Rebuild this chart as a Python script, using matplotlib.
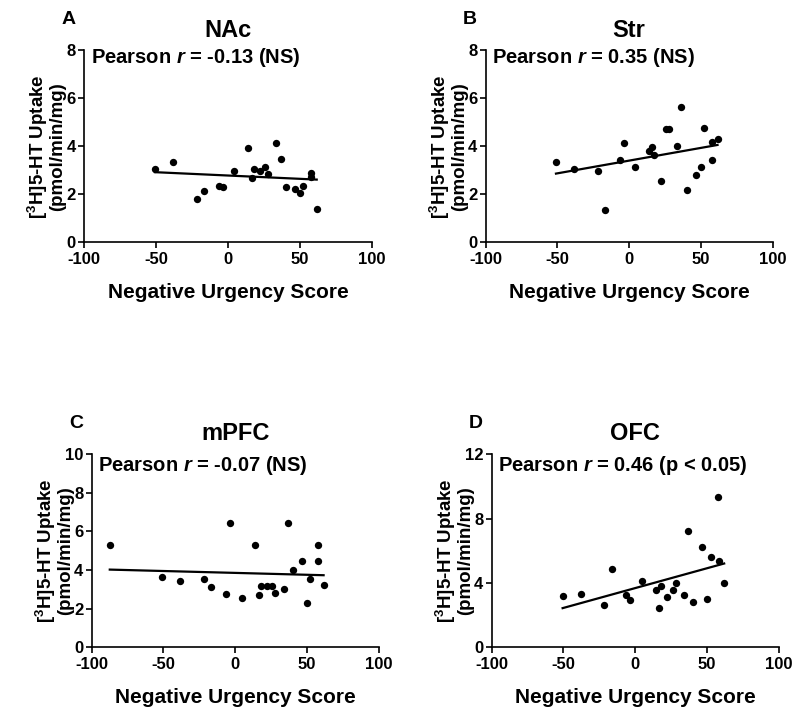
import numpy as np
import matplotlib
matplotlib.use("Agg")
import matplotlib.pyplot as plt

plt.rcParams["font.family"] = ["Liberation Sans", "DejaVu Sans"]
plt.rcParams["font.weight"] = "bold"
plt.rcParams["axes.unicode_minus"] = False
plt.rcParams["mathtext.fontset"] = "custom"
plt.rcParams["mathtext.rm"] = "Liberation Sans:bold"
plt.rcParams["mathtext.bf"] = "Liberation Sans:bold"
plt.rcParams["mathtext.it"] = "Liberation Sans:bold:italic"
plt.rcParams["mathtext.bfit"] = "Liberation Sans:bold:italic"

# ---------------------------------------------------------------
# Data
# ---------------------------------------------------------------
nac_x = [-50.7, -38.2, -21.8, -16.4, -6.5, -3.7, 4.4, 13.9, 16.4, 17.8, 22.0,
         25.5, 28.0, 33.6, 36.6, 40.0, 46.3, 49.8, 52.1, 57.6, 57.6, 61.6]
nac_y = [3.04, 3.36, 1.79, 2.12, 2.35, 2.31, 2.97, 3.92, 2.69, 3.07, 2.96,
         3.12, 2.85, 4.12, 3.46, 2.31, 2.24, 2.04, 2.35, 2.90, 2.71, 1.39]

str_x = [-51.0, -38.5, -22.0, -16.7, -6.7, -3.9, 4.2, 13.5, 16.0, 17.6, 21.8,
         25.3, 27.8, 33.4, 36.2, 40.1, 46.4, 49.7, 52.0, 57.5, 57.8, 61.5]
str_y = [3.33, 3.07, 2.99, 1.36, 3.44, 4.14, 3.15, 3.82, 3.96, 3.64, 2.56,
         4.72, 4.72, 4.01, 5.63, 2.18, 2.82, 3.14, 4.78, 3.43, 4.19, 4.32]

mpfc_x = [-87.4, -50.8, -38.5, -21.8, -16.7, -6.5, -3.7, 4.7, 13.9, 16.3, 17.7,
          21.8, 25.3, 27.8, 36.5, 33.7, 40.2, 46.4, 49.9, 52.0, 57.5, 57.5, 61.5]
mpfc_y = [5.30, 3.63, 3.45, 3.54, 3.11, 2.74, 6.46, 2.54, 5.32, 2.72, 3.19,
          3.19, 3.19, 2.80, 6.46, 3.04, 4.00, 4.45, 2.28, 3.56, 5.30, 4.47, 3.21]

ofc_x = [-50.6, -38.0, -21.6, -16.4, -6.3, -3.7, 4.9, 14.2, 16.5, 18.1, 22.3,
         26.0, 28.1, 33.7, 36.7, 40.4, 46.6, 50.1, 52.5, 58.0, 57.8, 61.9]
ofc_y = [3.20, 3.32, 2.64, 4.87, 3.22, 2.95, 4.12, 3.59, 2.41, 3.80, 3.10,
         3.59, 4.00, 3.24, 7.24, 2.79, 6.21, 2.97, 5.61, 5.36, 9.37, 4.00]

panel_letters = ["A", "B", "C", "D"]
regions = ["NAc", "Str", "mPFC", "OFC"]
pearson_labels = [
    r"Pearson $\mathbfit{r}$ = -0.13 (NS)",
    r"Pearson $\mathbfit{r}$ = 0.35 (NS)",
    r"Pearson $\mathbfit{r}$ = -0.07 (NS)",
    r"Pearson $\mathbfit{r}$ = 0.46 (p < 0.05)",
]
y_ticks = [[0, 2, 4, 6, 8], [0, 2, 4, 6, 8], [0, 2, 4, 6, 8, 10], [0, 4, 8, 12]]
x_ticks = [-100, -50, 0, 50, 100]

xs = [nac_x, str_x, mpfc_x, ofc_x]
ys = [nac_y, str_y, mpfc_y, ofc_y]

# axes rectangles in figure fractions (800 x 716 px)
rects = [
    [0.105, 0.6616, 0.360, 0.268],
    [0.607, 0.6616, 0.359, 0.268],
    [0.1146, 0.096, 0.359, 0.2696],
    [0.6146, 0.096, 0.359, 0.2696],
]
text_y = [0.965, 0.965, 0.941, 0.941]

fig = plt.figure(figsize=(8, 7.16), dpi=100)

for i in range(4):
    ax = fig.add_axes(rects[i])
    x = np.array(xs[i])
    y = np.array(ys[i])
    ax.scatter(x, y, s=28, color="black", zorder=3, linewidths=0)

    # least-squares regression line over the range of the data
    slope, intercept = np.polyfit(x, y, 1)
    xl = np.array([x.min(), x.max()])
    ax.plot(xl, slope * xl + intercept, color="black", lw=1.6)

    ax.set_xlim(-100, 100)
    ax.set_ylim(y_ticks[i][0], y_ticks[i][-1])
    ax.set_xticks(x_ticks)
    ax.set_yticks(y_ticks[i])
    ax.tick_params(direction="out", length=4, width=1.2, labelsize=12)
    ax.tick_params(axis="x", pad=3)
    ax.tick_params(axis="y", pad=2)
    for lab in ax.get_xticklabels() + ax.get_yticklabels():
        lab.set_fontweight("bold")
    for side in ["top", "right"]:
        ax.spines[side].set_visible(False)
    for side in ["left", "bottom"]:
        ax.spines[side].set_linewidth(1.2)

    ax.text(0.5, 1.105, regions[i], transform=ax.transAxes, ha="center",
            va="center", fontsize=17, fontweight="bold")
    ax.text(0.023, text_y[i], pearson_labels[i], transform=ax.transAxes,
            ha="left", va="center", fontsize=14.5, fontweight="bold")
    ax.text(-0.16, 0.5, r"[$^{3}$H]5-HT Uptake", transform=ax.transAxes,
            rotation=90, ha="center", va="center", fontsize=13.5, fontweight="bold")
    ax.text(-0.09, 0.5, "(pmol/min/mg)", transform=ax.transAxes,
            rotation=90, ha="center", va="center", fontsize=13.5, fontweight="bold")
    ax.text(0.5, -0.26, "Negative Urgency Score", transform=ax.transAxes,
            ha="center", va="center", fontsize=15, fontweight="bold")
    ax.text(-0.055, 1.16, panel_letters[i], transform=ax.transAxes,
            ha="center", va="center", fontsize=14, fontweight="bold")

fig.savefig("out.png", dpi=100)
